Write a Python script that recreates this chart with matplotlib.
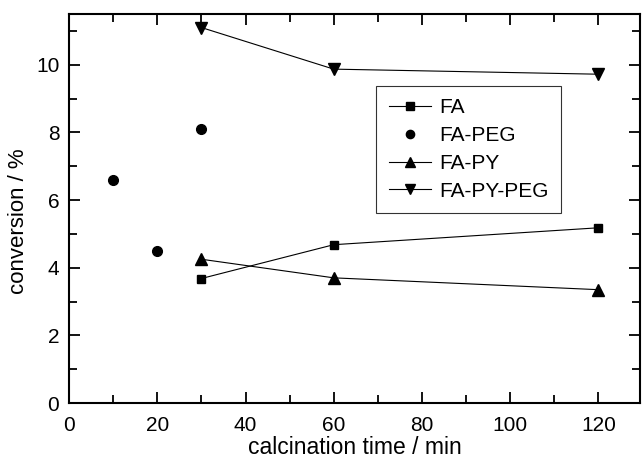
import matplotlib
matplotlib.use('Agg')
import matplotlib.pyplot as plt
from matplotlib.ticker import MultipleLocator

plt.rcParams['font.family'] = ['Liberation Sans', 'DejaVu Sans']

# datos
t_FA = [30, 60, 120]
c_FA = [3.68, 4.68, 5.18]
t_PEG = [10, 20, 30]
c_PEG = [6.6, 4.5, 8.1]
t_PY = [30, 60, 120]
c_PY = [4.25, 3.7, 3.35]
t_PYPEG = [30, 60, 120]
c_PYPEG = [11.1, 9.87, 9.72]

fig = plt.figure(figsize=(6.42, 4.59), dpi=100)
ax = fig.add_axes([0.1075, 0.122, 0.89, 0.8475])

lw = 0.8
ax.plot(t_FA, c_FA, '-s', color='black', lw=lw, ms=6, label='FA')
ax.plot(t_PEG, c_PEG, 'o', color='black', ms=7, label='FA-PEG')
ax.plot(t_PY, c_PY, '-^', color='black', lw=lw, ms=8, label='FA-PY')
ax.plot(t_PYPEG, c_PYPEG, '-v', color='black', lw=lw, ms=8, label='FA-PY-PEG')

ax.set_xlim(0, 129.5)
ax.set_ylim(0, 11.5)
ax.xaxis.set_major_locator(MultipleLocator(20))
ax.xaxis.set_minor_locator(MultipleLocator(10))
ax.yaxis.set_major_locator(MultipleLocator(2))
ax.yaxis.set_minor_locator(MultipleLocator(1))
ax.tick_params(which='both', direction='in', top=True, right=True, width=1.3)
ax.tick_params(which='major', length=8, labelsize=15)
ax.tick_params(which='minor', length=6)
ax.tick_params(axis='x', which='major', pad=9)
ax.tick_params(axis='y', which='major', pad=7)
for s in ax.spines.values():
    s.set_linewidth(1.5)

ax.set_xlabel('calcination time / min', fontsize=16.5, labelpad=1)
ax.set_ylabel('conversion / %', fontsize=16)
ax.yaxis.set_label_coords(-0.07, 0.468)

leg = ax.legend(loc='upper left', bbox_to_anchor=(0.538, 0.815), fontsize=15,
                frameon=True, fancybox=False, edgecolor='black', handlelength=2.0,
                borderpad=0.6, labelspacing=0.42, handletextpad=0.4, borderaxespad=0,
                markerscale=0.85)
leg.get_frame().set_linewidth(0.8)

plt.savefig('out.png', dpi=100)
